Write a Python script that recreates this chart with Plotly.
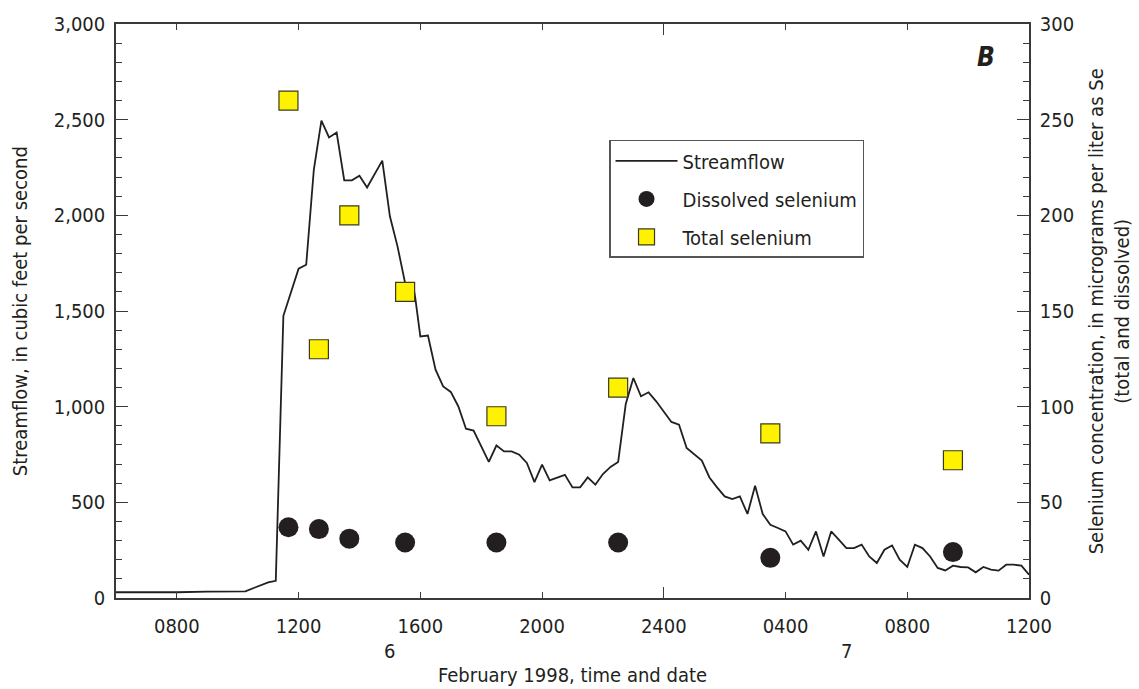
import plotly.graph_objects as go

# ---------------- data ----------------
# Streamflow, cubic feet per second (time stamps: "DD HH:MM", February 1998)
flow_time = [
    "06 06:00", "06 07:00", "06 08:00", "06 09:00", "06 10:00", "06 10:15",
    "06 11:00", "06 11:15", "06 11:30", "06 12:00", "06 12:15", "06 12:30",
    "06 12:45", "06 13:00", "06 13:15", "06 13:30", "06 13:45", "06 14:00",
    "06 14:15", "06 14:45", "06 15:00", "06 15:15", "06 15:30", "06 15:45",
    "06 15:50", "06 16:00", "06 16:15", "06 16:30", "06 16:45", "06 17:00",
    "06 17:15", "06 17:30", "06 17:45", "06 18:00", "06 18:15", "06 18:30",
    "06 18:45", "06 19:00", "06 19:15", "06 19:30", "06 19:45", "06 20:00",
    "06 20:15", "06 20:45", "06 21:00", "06 21:15", "06 21:30", "06 21:45",
    "06 22:00", "06 22:15", "06 22:30", "06 22:45", "06 23:00", "06 23:15",
    "06 23:30", "06 23:45", "07 00:15", "07 00:30", "07 00:45", "07 01:15",
    "07 01:30", "07 01:45", "07 02:00", "07 02:15", "07 02:30", "07 02:45",
    "07 03:00", "07 03:15", "07 03:30", "07 03:45", "07 04:00", "07 04:15",
    "07 04:30", "07 04:45", "07 05:00", "07 05:15", "07 05:30", "07 05:45",
    "07 06:00", "07 06:15", "07 06:30", "07 06:45", "07 07:00", "07 07:15",
    "07 07:30", "07 07:45", "07 08:00", "07 08:15", "07 08:30", "07 08:45",
    "07 09:00", "07 09:15", "07 09:30", "07 09:45", "07 10:00", "07 10:15",
    "07 10:30", "07 10:45", "07 11:00", "07 11:15", "07 11:30", "07 11:45",
    "07 12:00",
]
flow_cfs = [
    30, 29, 30, 33, 32, 35,
    82, 90, 1475, 1721, 1742, 2238,
    2495, 2407, 2433, 2183, 2183, 2207,
    2146, 2286, 1995, 1838, 1646, 1646,
    1568, 1367, 1372, 1193, 1106, 1077,
    1001, 885, 875, 797, 712, 797,
    766, 766, 749, 706, 606, 697,
    615, 644, 578, 578, 630, 592,
    648, 685, 711, 1014, 1150, 1054,
    1075, 1028, 920, 906, 784, 718,
    630, 578, 531, 517, 531, 439,
    587, 439, 383, 366, 348, 279,
    300, 252, 348, 217, 348, 305,
    261, 261, 279, 217, 183, 252,
    275, 200, 162, 279, 261, 217,
    157, 144, 169, 162, 160, 134,
    162, 148, 143, 174, 174, 169,
    122,
]

# Selenium samples, micrograms per liter as Se
sample_time = ["06 11:40", "06 12:40", "06 13:40", "06 15:30",
               "06 18:30", "06 22:30", "07 03:30", "07 09:30"]
dissolved_se = [37, 36, 31, 29, 29, 29, 21, 24]
total_se = [260, 130, 200, 160, 95, 110, 86, 72]

# Axis ticks
x_tick_time = ["06 08:00", "06 12:00", "06 16:00", "06 20:00",
               "07 00:00", "07 04:00", "07 08:00", "07 12:00"]
x_tick_text = ["0800", "1200", "1600", "2000", "2400", "0400", "0800", "1200"]
day_break_time = ["07 00:00"]
day_label_time = ["06 15:00", "07 06:00"]
day_label_text = ["6", "7"]
x_range = ["06 06:00", "07 12:00"]


def ts(s):
    return "1998-02-" + s


FONT = "DejaVu Sans Condensed, Liberation Sans Narrow, Arial Narrow, sans-serif"
FS = 20
INK = "#231f20"
AX = "#3a3a3a"
YELLOW = "#fff200"

fig = go.Figure()
fig.add_trace(go.Scatter(
    x=[ts(t) for t in flow_time], y=flow_cfs, mode="lines",
    name="Streamflow", legendgroup="a",
    line=dict(color=INK, width=1.8), yaxis="y"))
fig.add_trace(go.Scatter(
    x=[ts(t) for t in sample_time], y=dissolved_se, mode="markers",
    name="Dissolved selenium", legendgroup="b",
    marker=dict(symbol="circle", size=20, color=INK, line=dict(width=0)),
    yaxis="y2"))
fig.add_trace(go.Scatter(
    x=[ts(t) for t in sample_time], y=total_se, mode="markers",
    name="Total selenium", legendgroup="c",
    marker=dict(symbol="square", size=19, color=YELLOW,
                line=dict(width=1.2, color="#3d3a1a")),
    yaxis="y2"))
# carrier for the longer day-break tick axis
fig.add_trace(go.Scatter(x=[], y=[], xaxis="x2", yaxis="y",
                         showlegend=False, hoverinfo="skip"))

tickfont = dict(family=FONT, size=FS, color=INK)

fig.update_layout(
    width=1139, height=689,
    margin=dict(l=116, r=110, t=24, b=91),
    paper_bgcolor="white", plot_bgcolor="white",
    font=dict(family=FONT, size=FS, color=INK),
    showlegend=True,
    legend=dict(
        x=0.54, y=0.798, xanchor="left", yanchor="top",
        bgcolor="white", bordercolor="#555555", borderwidth=1.5,
        font=dict(family=FONT, size=FS, color=INK),
        itemwidth=62, tracegroupgap=9,
    ),
    xaxis=dict(
        type="date",
        range=[ts(x_range[0]), ts(x_range[1])],
        tickmode="array", tickvals=[ts(t) for t in x_tick_time],
        ticktext=x_tick_text,
        ticks="inside", ticklen=6, tickwidth=1.3, tickcolor=AX,
        showline=True, linecolor=AX, linewidth=1.5, mirror="ticks",
        showgrid=False, zeroline=False,
        tickfont=tickfont, ticklabelstandoff=9,
    ),
    xaxis2=dict(
        type="date", overlaying="x", anchor="y",
        range=[ts(x_range[0]), ts(x_range[1])],
        tickmode="array", tickvals=[ts(t) for t in day_break_time],
        ticks="inside", ticklen=11, tickwidth=1.3, tickcolor=AX,
        showticklabels=False, showline=False, mirror="ticks",
        showgrid=False, zeroline=False, side="bottom",
    ),
    yaxis=dict(
        range=[0, 3000], tickmode="linear", tick0=0, dtick=500,
        tickformat=",d",
        ticks="inside", ticklen=12, tickwidth=1.3, tickcolor=AX,
        minor=dict(dtick=100, ticks="inside", ticklen=6, tickwidth=1.2,
                   tickcolor=AX),
        showline=True, linecolor=AX, linewidth=1.5,
        showgrid=False, zeroline=False,
        tickfont=tickfont, ticklabelstandoff=5,
    ),
    yaxis2=dict(
        range=[0, 300], tickmode="linear", tick0=0, dtick=50,
        overlaying="y", side="right", anchor="x",
        ticks="inside", ticklen=12, tickwidth=1.3, tickcolor=AX,
        minor=dict(dtick=10, ticks="inside", ticklen=6, tickwidth=1.2,
                   tickcolor=AX),
        showline=True, linecolor=AX, linewidth=1.5,
        showgrid=False, zeroline=False,
        tickfont=tickfont, ticklabelstandoff=5,
    ),
)

# second row of x labels (dates)
for t, lab in zip(day_label_time, day_label_text):
    fig.add_annotation(x=ts(t), y=-0.092, xref="x", yref="paper",
                       text=lab, showarrow=False, yanchor="middle",
                       font=dict(family=FONT, size=FS, color=INK))

# axis titles
fig.add_annotation(x=0.5, y=-0.135, xref="paper", yref="paper",
                   text="February 1998, time and date", showarrow=False,
                   xanchor="center", yanchor="middle",
                   font=dict(family=FONT, size=FS, color=INK))
fig.add_annotation(x=-0.105, y=0.5, xref="paper", yref="paper",
                   text="Streamflow, in cubic feet per second", showarrow=False,
                   textangle=-90, xanchor="center", yanchor="middle",
                   font=dict(family=FONT, size=FS, color=INK))
fig.add_annotation(x=1.088, y=0.5, xref="paper", yref="paper",
                   text="Selenium concentration, in micrograms per liter as Se<br>(total and dissolved)",
                   showarrow=False, textangle=-90, xanchor="center",
                   yanchor="middle",
                   font=dict(family=FONT, size=FS, color=INK))
# panel letter
fig.add_annotation(x=0.953, y=0.9425, xref="paper", yref="paper",
                   text="<b><i>B</i></b>", showarrow=False,
                   xanchor="center", yanchor="middle",
                   font=dict(family=FONT, size=26, color=INK))

fig.write_html("out.html")
